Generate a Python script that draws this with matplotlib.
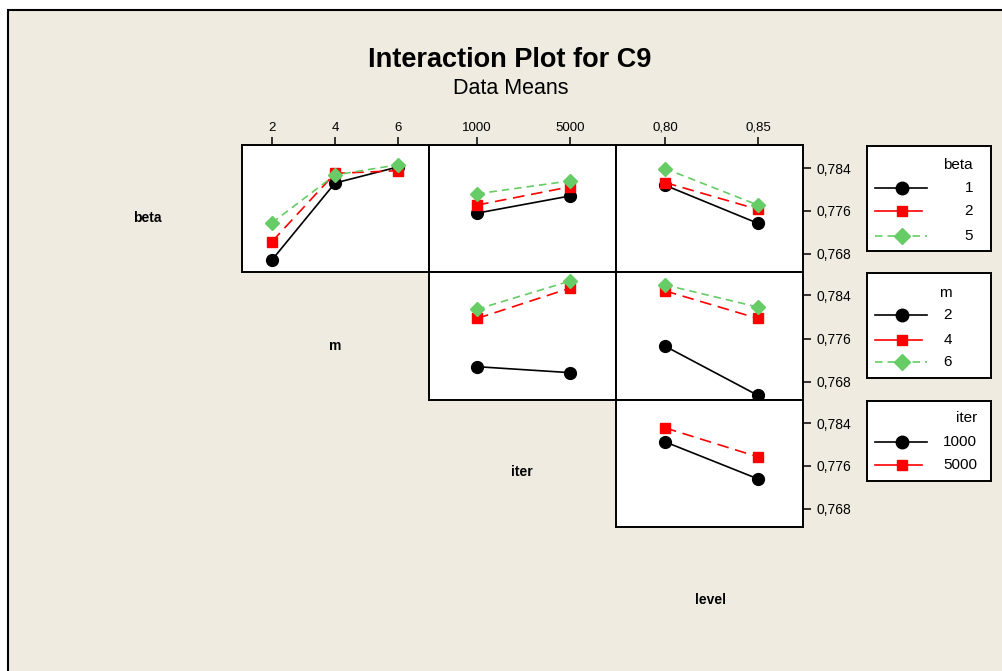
import matplotlib
matplotlib.use('Agg')
import matplotlib.pyplot as plt
from matplotlib.patches import Rectangle

plt.rcParams['font.family'] = ['Liberation Sans', 'DejaVu Sans']

# factor levels
beta_levels = ['1', '2', '5']
m_levels = [2, 4, 6]
iter_levels = [1000, 5000]
level_levels = [0.80, 0.85]
level_labels = ['0,80', '0,85']

# mean response, one row per trace level
beta_by_m = [[0.7669, 0.7812, 0.7842],
             [0.7703, 0.7830, 0.7835],
             [0.7738, 0.7827, 0.7846]]
beta_by_iter = [[0.7756, 0.7788],
                [0.7771, 0.7805],
                [0.7792, 0.7816]]
beta_by_level = [[0.7808, 0.7737],
                 [0.7813, 0.7763],
                 [0.7839, 0.7771]]
m_by_iter = [[0.7708, 0.7697],
             [0.7797, 0.7853],
             [0.7814, 0.7866]]
m_by_level = [[0.7746, 0.7655],
              [0.7848, 0.7797],
              [0.7859, 0.7818]]
iter_by_level = [[0.7805, 0.7736],
                 [0.7831, 0.7777]]

y_ticks = [0.768, 0.776, 0.784]
y_tick_labels = ['0,768', '0,776', '0,784']
y_lim = (0.76465, 0.78828)

W, H = 1003, 671
BG = '#EFEBE0'
RED = '#FF0000'
GREEN = '#66CC66'

styles = [
    dict(color='black', ls='-', lw=1.2, marker='o', ms=8.5),
    dict(color=RED, ls='--', dashes=(7, 4), lw=1.2, marker='s', ms=7),
    dict(color=GREEN, ls='--', dashes=(4.5, 3), lw=1.2, marker='D', ms=7.5),
]


def rect(x0, y0, x1, y1):
    return [x0 / W, 1 - y1 / H, (x1 - x0) / W, (y1 - y0) / H]


fig = plt.figure(figsize=(W / 100, H / 100), dpi=100)
fig.patch.set_facecolor('white')
fig.patches.append(Rectangle((8 / W, -0.05), 1.1, 1 - 10 / H + 0.05,
                             transform=fig.transFigure, facecolor=BG,
                             edgecolor='black', lw=1.5, zorder=-10))

fig.text(510 / W, 1 - 60 / H, 'Interaction Plot for C9', ha='center', va='center',
         fontsize=19.5, fontweight='bold')
fig.text(511 / W, 1 - 89 / H, 'Data Means', ha='center', va='center', fontsize=15.5)

col_x = [242, 429, 616, 803]
row_y = [145, 272, 400, 527]
x_lims = [(1.048, 6.984), (-1065, 6978), (0.7737, 0.8742)]
x_vals = [m_levels, iter_levels, level_levels]
x_labels = [[str(v) for v in m_levels], [str(v) for v in iter_levels], level_labels]

panels = {
    (0, 0): beta_by_m, (0, 1): beta_by_iter, (0, 2): beta_by_level,
    (1, 1): m_by_iter, (1, 2): m_by_level,
    (2, 2): iter_by_level,
}

for (r, c), series in panels.items():
    ax = fig.add_axes(rect(col_x[c], row_y[r], col_x[c + 1], row_y[r + 1]))
    ax.set_facecolor('white')
    for s in ax.spines.values():
        s.set_linewidth(1.4)
    for vals, st in zip(series, styles):
        ax.plot(x_vals[c], vals, clip_on=False, **st)
    ax.set_xlim(*x_lims[c])
    ax.set_ylim(*y_lim)
    if r == 0:
        ax.xaxis.tick_top()
        ax.set_xticks(x_vals[c])
        ax.set_xticklabels(x_labels[c])
        ax.tick_params(axis='x', length=6, width=1.1, pad=2, labelsize=9.5)
    else:
        ax.set_xticks([])
    if c == 2:
        ax.yaxis.tick_right()
        ax.set_yticks(y_ticks)
        ax.set_yticklabels(y_tick_labels)
        ax.tick_params(axis='y', length=6, width=1.1, pad=4, labelsize=10)
    else:
        ax.set_yticks([])

# factor names on the diagonal
for name, (x, y) in zip(['beta', 'm', 'iter', 'level'],
                        [(147, 218), (335, 346), (522, 472), (710, 600)]):
    fig.text(x / W, 1 - y / H, name, ha='center', va='center',
             fontsize=10, fontweight='bold')

# legends for each trace factor
legends = [
    ('beta', beta_levels, (867, 146, 991, 251), 106, [19, 42, 65, 90]),
    ('m', [str(v) for v in m_levels], (867, 273, 991, 378), 85, [20, 42, 67, 89]),
    ('iter', [str(v) for v in iter_levels], (867, 401, 991, 481), 110, [17, 41, 64]),
]
for title, labels, box, right, rows in legends:
    x0, y0, x1, y1 = box
    lax = fig.add_axes(rect(x0, y0, x1, y1))
    lax.set_facecolor('white')
    lax.set_xlim(0, x1 - x0)
    lax.set_ylim(y1 - y0, 0)
    lax.set_xticks([])
    lax.set_yticks([])
    for s in lax.spines.values():
        s.set_linewidth(1.4)
    lax.text(right, rows[0], title, ha='right', va='center', fontsize=11)
    for lab, y, st in zip(labels, rows[1:], styles):
        line_end = 55 if st['color'] == RED else 60
        line_st = {k: v for k, v in st.items() if k not in ('marker', 'ms')}
        if st['color'] == RED:
            line_st.update(ls='-', dashes=(None, None))
            line_st.pop('dashes')
        lax.plot([8, line_end], [y, y], **line_st)
        lax.plot([35], [y], ls='none', marker=st['marker'], ms=st['ms'] + 0.5,
                 color=st['color'])
        lax.text(right, y, lab, ha='right', va='center', fontsize=11)

fig.savefig('out.png', dpi=100, facecolor=fig.get_facecolor())
